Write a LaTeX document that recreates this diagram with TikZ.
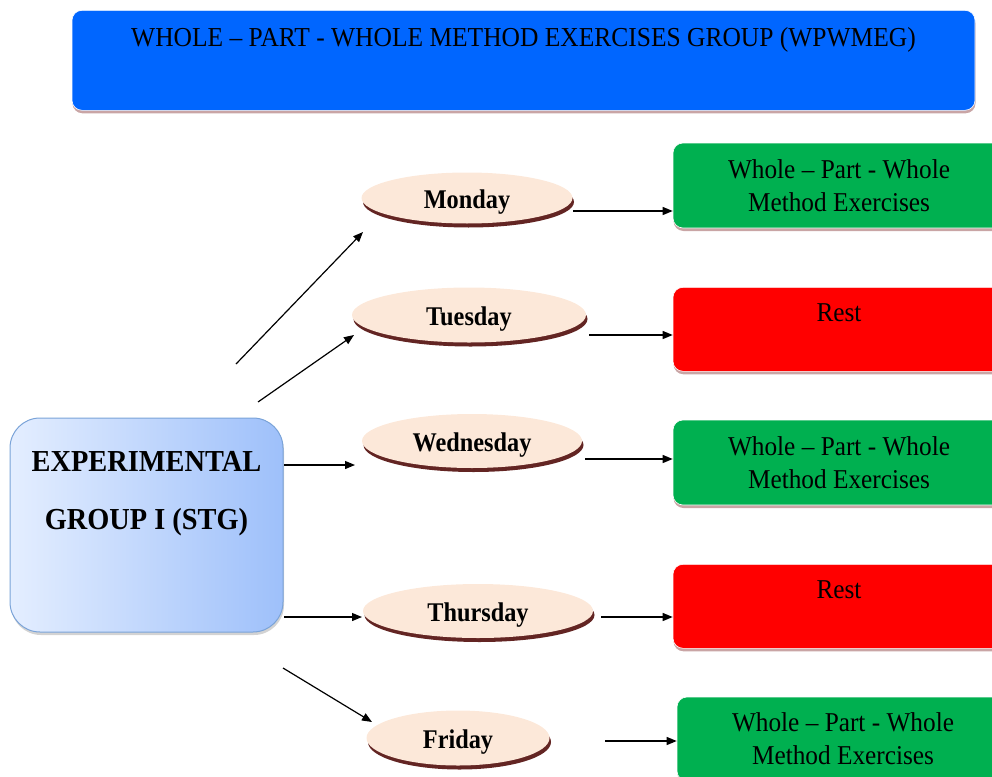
\documentclass[tikz,border=0pt]{standalone}
\usepackage{fontspec}
\setmainfont{Liberation Serif}
\newfontfamily\condA{Liberation Serif}[FakeStretch=0.93,Ligatures=TeX]
\newfontfamily\condB{Liberation Serif}[FakeStretch=0.9,Ligatures=TeX]
\usetikzlibrary{arrows.meta,shadows,shapes.geometric}
\definecolor{topblue}{HTML}{0066FF}
\definecolor{wgreen}{HTML}{00B050}
\definecolor{rred}{HTML}{FF0000}
\definecolor{peach}{HTML}{FCE8D9}
\definecolor{ellsh}{HTML}{632523}
\definecolor{boxsh}{HTML}{C9A5A5}
\definecolor{explft}{HTML}{E4EEFF}
\definecolor{exprgt}{HTML}{9EC0FA}
\definecolor{expbrd}{HTML}{7AA3D8}
\tikzset{
  boxshadow/.style={drop shadow={shadow xshift=0.5pt,shadow yshift=-3pt,fill=boxsh,opacity=1}},
  topbox/.style={rounded corners=10pt,fill=topblue,draw=white,line width=0.6pt,boxshadow,
    anchor=north,minimum width=903pt,inner xsep=0pt,inner ysep=8pt,
    text height=28pt,text depth=56pt,font=\condA\fontsize{27.4}{30}\selectfont},
  greenbox/.style={rounded corners=10pt,fill=wgreen,draw=white,line width=0.6pt,boxshadow,
    minimum width=332pt,align=center,font=\condA\fontsize{27.2}{33}\selectfont},
  redbox/.style={rounded corners=10pt,fill=rred,draw=white,line width=0.6pt,boxshadow,
    anchor=north,minimum width=332pt,inner ysep=6pt,text height=28pt,
    font=\condA\fontsize{27.2}{33}\selectfont},
  day/.style={ellipse,fill=peach,inner sep=0pt,text height=20pt,text depth=0pt,
    drop shadow={shadow xshift=1.5pt,shadow yshift=-4pt,fill=ellsh,opacity=1},
    font=\condB\bfseries\fontsize{27}{28}\selectfont},
  expbox/.style={rounded corners=30pt,left color=explft,right color=exprgt,draw=expbrd,
    line width=1pt,drop shadow={shadow xshift=1pt,shadow yshift=-3pt,fill=gray,opacity=0.35},
    minimum width=273pt,minimum height=214pt,align=center,
    font=\condA\bfseries\fontsize{30.5}{58}\selectfont},
  arr/.style={-{Triangle[length=10pt,width=8pt]},line width=1.2pt,black},
}
\begin{document}
\begin{tikzpicture}[x=1pt,y=-1pt]
\useasboundingbox (0,0) rectangle (992,776);
% top title box
\node[topbox] (title) at (523.5,10) {WHOLE – PART - WHOLE METHOD EXERCISES GROUP (WPWMEG)};
% experimental group
\node[expbox] (exp) at (146.5,525) {EXPERIMENTAL\\GROUP I (STG)\\[12pt]\mbox{}};
% days
\node[day,minimum width=211pt,minimum height=51pt] (mon) at (467,198) {Monday};
\node[day,minimum width=234pt,minimum height=55pt] (tue) at (469,315) {Tuesday};
\node[day,minimum width=220pt,minimum height=54pt] (wed) at (472,441) {Wednesday};
\node[day,minimum width=230pt,minimum height=54pt] (thu) at (478,611) {Thursday};
\node[day,minimum width=183pt,minimum height=55pt] (fri) at (458,738) {Friday};
% right boxes
\node[greenbox,minimum height=85pt] (b1) at (839,185.5) {Whole – Part - Whole\\Method Exercises};
\node[redbox,minimum height=84pt,text depth=44pt] (b2) at (839,287) {Rest};
\node[greenbox,minimum height=85pt] (b3) at (839,462.5) {Whole – Part - Whole\\Method Exercises};
\node[redbox,minimum height=84pt,text depth=44pt] (b4) at (839,564) {Rest};
\node[greenbox,minimum height=84pt] (b5) at (843,739) {Whole – Part - Whole\\Method Exercises};
% connector endpoints
\coordinate (s1) at (236,364);
\coordinate (e1) at (363,232);
\coordinate (s2) at (258,402);
\coordinate (e2) at (354,335);
\coordinate (s3) at (284,465);
\coordinate (e3) at (355,465);
\coordinate (s4) at (284,617);
\coordinate (e4) at (362,617);
\coordinate (s5) at (283,668);
\coordinate (e5) at (372,722);
\draw[arr] (s1) -- (e1);
\draw[arr] (s2) -- (e2);
\draw[arr] (s3) -- (e3);
\draw[arr] (s4) -- (e4);
\draw[arr] (s5) -- (e5);
% day to activity
\coordinate (m1) at (573,211);
\draw[arr] (m1) -- (b1.west |- m1);
\coordinate (t1) at (589,335);
\draw[arr] (t1) -- (b2.west |- t1);
\coordinate (w1) at (585,459);
\draw[arr] (w1) -- (b3.west |- w1);
\coordinate (h1) at (601,617);
\draw[arr] (h1) -- (b4.west |- h1);
\coordinate (f1) at (605,741);
\draw[arr] (f1) -- (b5.west |- f1);
\end{tikzpicture}
\end{document}
